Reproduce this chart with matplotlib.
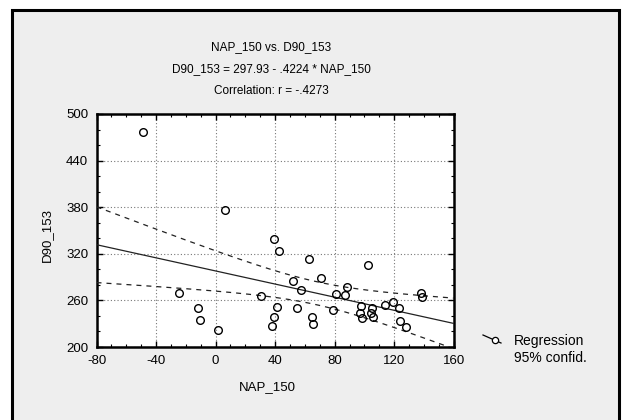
import numpy as np
import matplotlib
matplotlib.use("Agg")
import matplotlib.pyplot as plt
from matplotlib.patches import Rectangle
from matplotlib.lines import Line2D
from matplotlib.ticker import MultipleLocator

plt.rcParams['font.family'] = ['Liberation Sans', 'DejaVu Sans']
plt.rcParams['axes.unicode_minus'] = False

# ---- data ----
nap_150 = [-48.8, 6.5, -24.4, -11.9, -10.3, 1.5, 30.2, 39.3, 39.0, 37.8,
           42.7, 62.8, 102.4, 52.3, 70.7, 57.4, 88.3, 80.7, 86.8, 41.6,
           54.6, 78.9, 64.8, 65.8, 98.0, 96.8, 98.2, 105.3, 104.6, 105.7,
           114.1, 119.5, 123.2, 124.2, 127.7, 138.3, 138.7]
d90_153 = [477, 376, 270, 250, 235, 222, 266, 339, 238, 227,
           323, 313, 305, 285, 289, 273, 277, 268, 267, 251,
           250, 248, 238, 229, 253, 244, 237, 250, 244, 238,
           254, 258, 250, 234, 226, 270, 264]
intercept = 297.93
slope = -0.4224
x_ticks = [-80, -40, 0, 40, 80, 120, 160]
y_ticks = [200, 260, 320, 380, 440, 500]
title_lines = ["NAP_150 vs. D90_153",
               "D90_153 = 297.93 - .4224 * NAP_150",
               "Correlation: r = -.4273"]
legend_labels = ["Regression", "95% confid."]

W, H = 626, 420
fig = plt.figure(figsize=(W / 100, H / 100), dpi=100)
fig.patch.set_facecolor('white')

def fx(px):
    return px / W

def fy(py):
    return 1 - py / H

# stippled panel background with frame
panel = Rectangle((fx(12), fy(425)), fx(619) - fx(12), fy(10) - fy(425),
                  transform=fig.transFigure, facecolor='#eeeeee',
                  edgecolor='black', linewidth=2.2, zorder=-10)
fig.patches.append(panel)

ax_l, ax_r, ax_t, ax_b = 96.5, 453.7, 114, 347
ax = fig.add_axes([fx(ax_l), fy(ax_b), fx(ax_r) - fx(ax_l), fy(ax_t) - fy(ax_b)])
ax.set_zorder(1)
ax.set_facecolor('white')

x = np.array(nap_150, dtype=float)
y = np.array(d90_153, dtype=float)

# regression line and 95% confidence band
xx = np.linspace(-80, 160, 200)
yy = intercept + slope * xx
n = len(x)
resid = y - (intercept + slope * x)
s = np.sqrt(np.sum(resid ** 2) / (n - 2))
sxx = np.sum((x - x.mean()) ** 2)
t_crit = 2.03
half = t_crit * s * np.sqrt(1.0 / n + (xx - x.mean()) ** 2 / sxx)

ax.plot(xx, yy, color='#222222', linewidth=0.9, zorder=3)
ax.plot(xx, yy + half, color='#222222', linewidth=0.9, linestyle=(0, (4, 4)), zorder=3)
ax.plot(xx, yy - half, color='#222222', linewidth=0.9, linestyle=(0, (4, 4)), zorder=3)

ax.plot(x, y, linestyle='none', marker='o', markersize=5.5,
        markerfacecolor='none', markeredgecolor='black', markeredgewidth=1.0, zorder=4)

ax.set_xlim(-80, 160)
ax.set_ylim(200, 500)
ax.set_xticks(x_ticks)
ax.set_yticks(y_ticks)
ax.xaxis.set_minor_locator(MultipleLocator(10))
ax.yaxis.set_minor_locator(MultipleLocator(20))
ax.tick_params(which='both', direction='in', top=True, right=True, colors='black',
               labelsize=9.5)
ax.tick_params(which='major', length=4, width=1)
ax.tick_params(which='minor', length=2.5, width=0.8)
ax.tick_params(axis='x', pad=6)
ax.tick_params(axis='y', pad=6)
for sp in ax.spines.values():
    sp.set_linewidth(1.8)
    sp.set_color('black')
ax.grid(True, which='major', color='#777777', linestyle=(0, (1, 2)), linewidth=0.8)
ax.set_axisbelow(True)

# titles
for i, t in enumerate(title_lines):
    fig.text(fx(271), fy(47 + 22 * i), t, ha='center', va='center', fontsize=8.5)

# axis labels
fig.text(fx(267), fy(387), "NAP_150", ha='center', va='center', fontsize=9.5)
fig.text(fx(47), fy(235), "D90_153", ha='center', va='center', rotation=90, fontsize=9.5)

# legend
fig.lines.append(Line2D([fx(483), fx(501)], [fy(335), fy(343)], transform=fig.transFigure,
                        color='black', linewidth=0.9))
fig.lines.append(Line2D([fx(495)], [fy(340)], transform=fig.transFigure, marker='o',
                        markersize=4.5, markerfacecolor='white', markeredgecolor='black',
                        markeredgewidth=0.9, linestyle='none'))
fig.text(fx(514), fy(341), legend_labels[0], ha='left', va='center', fontsize=10)
fig.text(fx(514), fy(358), legend_labels[1], ha='left', va='center', fontsize=10)

fig.savefig("out.png", dpi=100)
